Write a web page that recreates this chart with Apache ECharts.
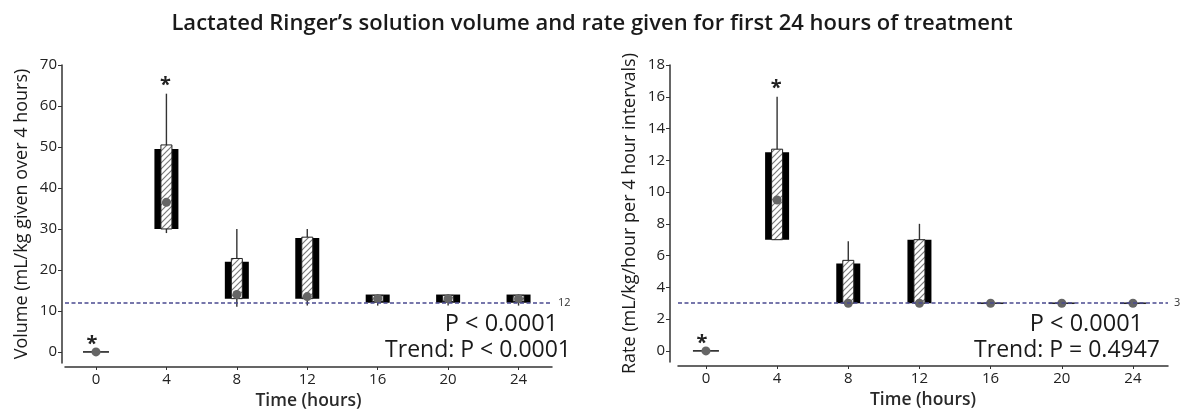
<!DOCTYPE html>
<html>
<head>
<meta charset="utf-8">
<script src="https://cdn.jsdelivr.net/npm/echarts@6/dist/echarts.min.js"></script>
<style>
  html, body { margin: 0; padding: 0; background: #fff; }
  #main { width: 1184px; height: 410px; }
</style>
</head>
<body>
<div id="main"></div>
<script>
// time points (hours)
const times = [0, 4, 8, 12, 16, 20, 24];
const xTicks = [0, 4, 8, 12, 16, 20, 24];

// volume panel (mL/kg given over 4 hours)
const volBoxLow    = [0, 30,   13,   13,   12,   12,   12];
const volBoxHigh   = [0, 49.5, 22,   27.8, 14,   14,   14];
const volHatchLow  = [0, 30,   13,   13,   12.3, 12.3, 12.3];
const volHatchHigh = [0, 50.5, 22.8, 28,   13.8, 13.8, 13.8];
const volWhiskLow  = [0, 29,   11,   11.3, 11.3, 11.3, 11.3];
const volWhiskHigh = [0, 63,   30,   30,   14,   14,   14];
const volDot       = [0, 36.5, 14,   13.5, 13,   13,   13];
const volStar      = [1, 1, 0, 0, 0, 0, 0];
const volTicks = [0, 10, 20, 30, 40, 50, 60, 70];
const volRef = 12;

// rate panel (mL/kg/hour per 4 hour intervals)
const rateBoxLow    = [0, 7,    3,   3, 3, 3, 3];
const rateBoxHigh   = [0, 12.5, 5.5, 7, 3, 3, 3];
const rateHatchLow  = [0, 7,    3,   3, 3, 3, 3];
const rateHatchHigh = [0, 12.7, 5.7, 7, 3, 3, 3];
const rateWhiskLow  = [0, 7,    3,   3, 3, 3, 3];
const rateWhiskHigh = [0, 16,   6.9, 8, 3, 3, 3];
const rateDot       = [0, 9.5,  3,   3, 3, 3, 3];
const rateStar      = [1, 1, 0, 0, 0, 0, 0];
const rateTicks = [0, 2, 4, 6, 8, 10, 12, 14, 16, 18];
const rateRef = 3;

const FONT = '"Open Sans", "Noto Sans", sans-serif';

// hatch pattern for the inner boxes
const hatch = document.createElement('canvas');
hatch.width = 6;
hatch.height = 6;
(function () {
  const c = hatch.getContext('2d');
  c.fillStyle = '#fff';
  c.fillRect(0, 0, 6, 6);
  c.strokeStyle = '#7a7a7a';
  c.lineWidth = 1.2;
  c.beginPath();
  c.moveTo(-1, 7); c.lineTo(7, -1);
  c.moveTo(-4, 4); c.lineTo(4, -4);
  c.moveTo(2, 10); c.lineTo(10, 2);
  c.stroke();
})();

const buildData = (lo, hi, hlo, hhi, wlo, whi, dot, star) =>
  times.map((t, i) => [t, lo[i], hi[i], hlo[i], hhi[i], wlo[i], whi[i], dot[i], star[i]]);

const renderBox = (params, api) => {
  const t = api.value(0);
  const pLo = api.coord([t, api.value(1)]);
  const pHi = api.coord([t, api.value(2)]);
  const hLo = api.coord([t, api.value(3)]);
  const hHi = api.coord([t, api.value(4)]);
  const wLo = api.coord([t, api.value(5)]);
  const wHi = api.coord([t, api.value(6)]);
  const pDot = api.coord([t, api.value(7)]);
  const cx = pLo[0];
  const children = [];
  // whisker
  if (wLo[1] - wHi[1] > 0.5) {
    children.push({
      type: 'line',
      shape: { x1: cx, y1: wLo[1], x2: cx, y2: wHi[1] },
      style: { stroke: '#333', lineWidth: 1.4 }
    });
  }
  const flat = pLo[1] - pHi[1] < 1;
  if (flat) {
    // flat group: short horizontal bar
    children.push({
      type: 'line',
      shape: { x1: cx - 13, y1: pLo[1], x2: cx + 13, y2: pLo[1] },
      style: { stroke: '#222', lineWidth: 1.6 }
    });
  } else {
    children.push({
      type: 'rect',
      shape: { x: cx - 12, y: pHi[1], width: 24, height: pLo[1] - pHi[1] },
      style: { fill: '#000' }
    });
    children.push({
      type: 'rect',
      shape: { x: cx - 5.5, y: hHi[1], width: 11, height: hLo[1] - hHi[1] },
      style: { fill: { image: hatch, repeat: 'repeat' }, stroke: '#222', lineWidth: 1 }
    });
  }
  children.push({
    type: 'circle',
    shape: { cx: cx, cy: pDot[1], r: 4.5 },
    style: { fill: '#666' }
  });
  if (api.value(8)) {
    children.push({
      type: 'text',
      x: flat ? cx - 4 : cx - 1,
      y: wHi[1] - 8,
      style: {
        text: '*', fontSize: 20, fontWeight: 'bold', fontFamily: FONT, fill: '#222',
        align: 'center', verticalAlign: 'middle'
      }
    });
  }
  return { type: 'group', children: children };
};

const myChart = echarts.init(document.getElementById('main'));

const xAxisBase = (grid, min, max) => ({
  type: 'value',
  gridIndex: grid,
  min: min,
  max: max,
  offset: 4,
  name: 'Time (hours)',
  nameLocation: 'middle',
  nameGap: 24,
  nameTextStyle: { fontFamily: FONT, fontSize: 17.5, fontWeight: 600, color: '#2a2a2a' },
  axisLine: { onZero: false, lineStyle: { color: '#333', width: 1.5 } },
  axisTick: { show: true, length: 3, customValues: xTicks, lineStyle: { color: '#333' } },
  axisLabel: { customValues: xTicks, fontFamily: FONT, fontSize: 15, color: '#222', margin: 5 },
  splitLine: { show: false }
});

const yAxisBase = (grid, min, max, ticks, name, offset) => ({
  type: 'value',
  gridIndex: grid,
  min: min,
  max: max,
  offset: offset,
  name: name,
  nameLocation: 'middle',
  nameGap: 31,
  nameTextStyle: { fontFamily: FONT, fontSize: 18, color: '#1a1a1a' },
  axisLine: { show: true, onZero: false, lineStyle: { color: '#333', width: 1.5 } },
  axisTick: { show: true, length: 4, customValues: ticks, lineStyle: { color: '#333' } },
  axisLabel: { customValues: ticks, fontFamily: FONT, fontSize: 15, color: '#222', margin: 5 },
  splitLine: { show: false }
});

const refLine = (v) => ({
  silent: true,
  symbol: 'none',
  lineStyle: { type: [4, 2.5], color: '#4a4a90', width: 1.6 },
  label: { position: 'end', distance: 6, fontFamily: FONT, fontSize: 11, color: '#333', formatter: String(v) },
  data: [{ yAxis: v }]
});

myChart.setOption({
  animation: false,
  title: {
    text: 'Lactated Ringer’s solution volume and rate given for first 24 hours of treatment',
    left: 'center',
    top: 8,
    textStyle: { fontFamily: FONT, fontSize: 22, fontWeight: 600, color: '#1a1a1a' }
  },
  grid: [
    { left: 65, right: 632, top: 65, bottom: 47, containLabel: false, outerBoundsMode: 'none' },
    { left: 678, right: 16, top: 65, bottom: 48, containLabel: false, outerBoundsMode: 'none' }
  ],
  xAxis: [
    xAxisBase(0, -1.76, 25.9),
    xAxisBase(1, -1.57, 25.97)
  ],
  yAxis: [
    yAxisBase(0, -2.7, 70, volTicks, 'Volume (mL/kg given over 4 hours)', 3),
    yAxisBase(1, -0.7, 18, rateTicks, 'Rate (mL/kg/hour per 4 hour intervals)', 8)
  ],
  series: [
    {
      type: 'custom',
      xAxisIndex: 0,
      yAxisIndex: 0,
      renderItem: renderBox,
      data: buildData(volBoxLow, volBoxHigh, volHatchLow, volHatchHigh, volWhiskLow, volWhiskHigh, volDot, volStar),
      markLine: refLine(volRef),
      z: 3
    },
    {
      type: 'custom',
      xAxisIndex: 1,
      yAxisIndex: 1,
      renderItem: renderBox,
      data: buildData(rateBoxLow, rateBoxHigh, rateHatchLow, rateHatchHigh, rateWhiskLow, rateWhiskHigh, rateDot, rateStar),
      markLine: refLine(rateRef),
      z: 3
    }
  ],
  graphic: [
    { type: 'text', right: 1184 - 558, top: 312, style: { text: 'P < 0.0001', fontFamily: FONT, fontSize: 23.5, fill: '#1a1a1a' } },
    { type: 'text', right: 1184 - 571, top: 339, style: { text: 'Trend: P < 0.0001', fontFamily: FONT, fontSize: 23, fill: '#1a1a1a' } },
    { type: 'text', right: 1184 - 1143, top: 312, style: { text: 'P < 0.0001', fontFamily: FONT, fontSize: 23.5, fill: '#1a1a1a' } },
    { type: 'text', right: 1184 - 1160, top: 339, style: { text: 'Trend: P = 0.4947', fontFamily: FONT, fontSize: 23, fill: '#1a1a1a' } }
  ]
});
</script>
</body>
</html>
